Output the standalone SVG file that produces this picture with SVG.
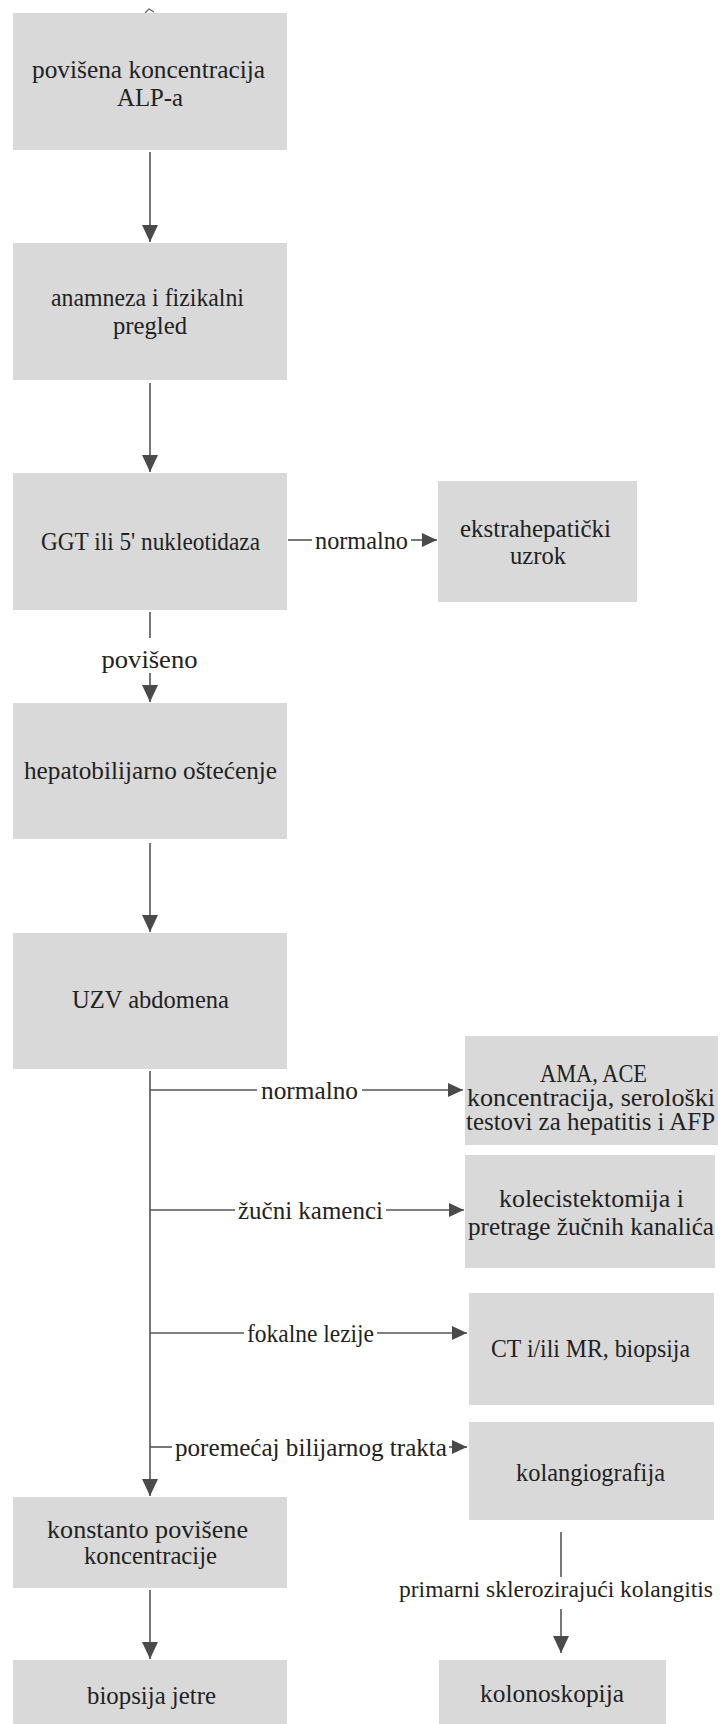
<svg xmlns="http://www.w3.org/2000/svg" width="724" height="1724" viewBox="0 0 724 1724">
<defs>
<style>
.box{fill:#d9d9d9;}
.t{font-family:'Liberation Serif','DejaVu Serif',serif;font-size:25px;fill:#222;text-anchor:middle;}
.ln{stroke:#555;stroke-width:1.6;fill:none;}
</style>
<marker id="arr" markerUnits="userSpaceOnUse" markerWidth="17" markerHeight="16" viewBox="0 0 17 16" refX="17" refY="8" orient="auto"><path d="M0,0 L17,8 L0,16 z" fill="#4a4a4a"/></marker>
<marker id="arrs" markerUnits="userSpaceOnUse" markerWidth="15" markerHeight="14" viewBox="0 0 15 14" refX="15" refY="7" orient="auto"><path d="M0,0 L15,7 L0,14 z" fill="#4a4a4a"/></marker>
</defs>
<rect width="724" height="1724" fill="#ffffff"/>
<path d="M145,13 L149,9 L154,12" stroke="#666" stroke-width="1.2" fill="none"/>
<g font-family="Liberation Serif, DejaVu Serif, serif">
<g id="n1"><rect class="box" x="13" y="13" width="274" height="137"/>
<text class="t" x="148.5" y="78" textLength="233" lengthAdjust="spacingAndGlyphs">povišena koncentracija</text>
<text class="t" x="150" y="106" textLength="66" lengthAdjust="spacingAndGlyphs">ALP-a</text></g>

<g id="n2"><rect class="box" x="13" y="243" width="274" height="137"/>
<text class="t" x="147.5" y="306" textLength="193" lengthAdjust="spacingAndGlyphs">anamneza i fizikalni</text>
<text class="t" x="150" y="334" textLength="74" lengthAdjust="spacingAndGlyphs">pregled</text></g>

<g id="n3"><rect class="box" x="13" y="473" width="274" height="137"/>
<text class="t" x="150.5" y="550" textLength="219" lengthAdjust="spacingAndGlyphs">GGT ili 5' nukleotidaza</text></g>

<g id="n4"><rect class="box" x="438" y="481" width="199" height="121"/>
<text class="t" x="535.5" y="537" textLength="151" lengthAdjust="spacingAndGlyphs">ekstrahepatički</text>
<text class="t" x="538" y="564" textLength="56" lengthAdjust="spacingAndGlyphs">uzrok</text></g>

<g id="n5"><rect class="box" x="13" y="703" width="274" height="136"/>
<text class="t" x="150.5" y="779" textLength="253" lengthAdjust="spacingAndGlyphs">hepatobilijarno oštećenje</text></g>

<g id="n6"><rect class="box" x="13" y="933" width="274" height="136"/>
<text class="t" x="150.5" y="1008" textLength="157" lengthAdjust="spacingAndGlyphs">UZV abdomena</text></g>

<g id="n7"><rect class="box" x="465" y="1036" width="253" height="109"/>
<text class="t" x="593.5" y="1082" textLength="107" lengthAdjust="spacingAndGlyphs">AMA, ACE</text>
<text class="t" x="591" y="1106" textLength="248" lengthAdjust="spacingAndGlyphs">koncentracija, serološki</text>
<text class="t" x="590.5" y="1130" textLength="249" lengthAdjust="spacingAndGlyphs">testovi za hepatitis i AFP</text></g>

<g id="n8"><rect class="box" x="465" y="1155" width="250" height="113"/>
<text class="t" x="591.5" y="1207" textLength="185" lengthAdjust="spacingAndGlyphs">kolecistektomija i</text>
<text class="t" x="591" y="1235" textLength="246" lengthAdjust="spacingAndGlyphs">pretrage žučnih kanalića</text></g>

<g id="n9"><rect class="box" x="469" y="1293" width="245" height="112"/>
<text class="t" x="590.5" y="1357" textLength="199" lengthAdjust="spacingAndGlyphs">CT i/ili MR, biopsija</text></g>

<g id="n10"><rect class="box" x="469" y="1422" width="245" height="98"/>
<text class="t" x="590.5" y="1481" textLength="149" lengthAdjust="spacingAndGlyphs">kolangiografija</text></g>

<g id="n11"><rect class="box" x="13" y="1497" width="274" height="91"/>
<text class="t" x="147.5" y="1538" textLength="201" lengthAdjust="spacingAndGlyphs">konstanto povišene</text>
<text class="t" x="150.5" y="1564" textLength="133" lengthAdjust="spacingAndGlyphs">koncentracije</text></g>

<g id="n12"><rect class="box" x="13" y="1660" width="274" height="70"/>
<text class="t" x="151.5" y="1704" textLength="129" lengthAdjust="spacingAndGlyphs">biopsija jetre</text></g>

<g id="n13"><rect class="box" x="439" y="1660" width="227" height="70"/>
<text class="t" x="552" y="1702" textLength="144" lengthAdjust="spacingAndGlyphs">kolonoskopija</text></g>

<g id="connectors">
<path class="ln" d="M150,152 L150,242" marker-end="url(#arr)"/>
<path class="ln" d="M150,383 L150,472" marker-end="url(#arr)"/>
<path class="ln" d="M288,540 L312,540"/>
<path class="ln" d="M411,540 L437,540" marker-end="url(#arrs)"/>
<text class="t" x="361.5" y="549" textLength="93" lengthAdjust="spacingAndGlyphs">normalno</text>
<path class="ln" d="M150,612 L150,638"/>
<path class="ln" d="M150,673 L150,702" marker-end="url(#arr)"/>
<text class="t" x="149.5" y="668" textLength="96" lengthAdjust="spacingAndGlyphs">povišeno</text>
<path class="ln" d="M150,843 L150,932" marker-end="url(#arr)"/>
<path class="ln" d="M150,1071 L150,1496" marker-end="url(#arr)"/>
<path class="ln" d="M150,1090 L257,1090"/>
<path class="ln" d="M362,1090 L463,1090" marker-end="url(#arrs)"/>
<text class="t" x="309.5" y="1099" textLength="97" lengthAdjust="spacingAndGlyphs">normalno</text>
<path class="ln" d="M150,1210 L235,1210"/>
<path class="ln" d="M386,1210 L464,1210" marker-end="url(#arrs)"/>
<text class="t" x="310.5" y="1219" textLength="145" lengthAdjust="spacingAndGlyphs">žučni kamenci</text>
<path class="ln" d="M150,1333 L244,1333"/>
<path class="ln" d="M377,1333 L467,1333" marker-end="url(#arrs)"/>
<text class="t" x="310.5" y="1342" textLength="127" lengthAdjust="spacingAndGlyphs">fokalne lezije</text>
<path class="ln" d="M150,1447 L172,1447"/>
<path class="ln" d="M449,1447 L467,1447" marker-end="url(#arrs)"/>
<text class="t" x="311" y="1456" textLength="272" lengthAdjust="spacingAndGlyphs">poremećaj bilijarnog trakta</text>
<path class="ln" d="M561,1532 L561,1577"/>
<path class="ln" d="M561,1609 L561,1653" marker-end="url(#arr)"/>
<text class="t" x="556" y="1597" font-size="23" style="font-size:23px" textLength="314" lengthAdjust="spacingAndGlyphs">primarni sklerozirajući kolangitis</text>
<path class="ln" d="M150,1590 L150,1659" marker-end="url(#arr)"/>
</g>
</g>
</svg>
